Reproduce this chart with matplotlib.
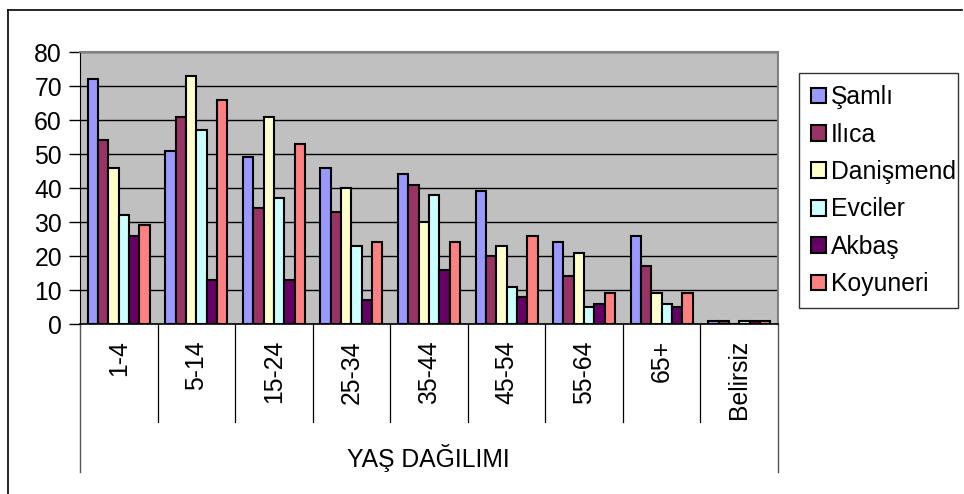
import matplotlib
matplotlib.use("Agg")
import matplotlib.pyplot as plt
import numpy as np
from matplotlib.lines import Line2D
import matplotlib.transforms as mtrans

plt.rcParams['font.family'] = ['Liberation Sans', 'DejaVu Sans']

categories = ["1-4", "5-14", "15-24", "25-34", "35-44", "45-54", "55-64", "65+", "Belirsiz"]
series_names = ["Şamlı", "Ilıca", "Danişmend", "Evciler", "Akbaş", "Koyuneri"]
samli     = [72, 51, 49, 46, 44, 39, 24, 26, 1]
ilica     = [54, 61, 34, 33, 41, 20, 14, 17, 1]
danismend = [46, 73, 61, 40, 30, 23, 21, 9, 0]
evciler   = [32, 57, 37, 23, 38, 11, 5, 6, 1]
akbas     = [26, 13, 13, 7, 16, 8, 6, 5, 1]
koyuneri  = [29, 66, 53, 24, 24, 26, 9, 9, 1]
series = [samli, ilica, danismend, evciler, akbas, koyuneri]
colors = ["#9999FF", "#993366", "#FFFFCC", "#CCFFFF", "#660066", "#FF8080"]
axis_title = "YAŞ DAĞILIMI"

FS = 17.8
W, H = 964, 494
fig = plt.figure(figsize=(W / 100, H / 100), dpi=100)
L, R, T, B = 80, 778, 52, 324
ax = fig.add_axes([L / W, 1 - B / H, (R - L) / W, (B - T) / H])
ax.set_facecolor("#C0C0C0")

n = len(series)
bw = 1.0 / (n + 1.5)
x = np.arange(len(categories))
for i, (vals, c, name) in enumerate(zip(series, colors, series_names)):
    offs = (i - (n - 1) / 2) * bw
    ax.bar(x + offs, vals, width=bw, color=c, edgecolor="black", linewidth=1.5,
           label=name, zorder=3)

ax.set_xlim(-0.5, len(categories) - 0.5)
ax.set_ylim(0, 80)
ax.set_yticks(range(0, 81, 10))
ax.yaxis.grid(True, color="black", linewidth=1.0, zorder=1)
ax.set_axisbelow(True)
ax.tick_params(axis="y", direction="out", length=8, width=1, labelsize=FS, pad=5,
               colors="black")
ax.set_xticks([])
for s in ["top", "right"]:
    ax.spines[s].set_color("#808080")
    ax.spines[s].set_linewidth(1.5)
ax.spines["left"].set_color("black")
ax.spines["bottom"].set_color("black")
ax.spines["bottom"].set_linewidth(1.2)

# Category labels and separators
trans = mtrans.blended_transform_factory(ax.transData, ax.transAxes)
h_px = B - T
def yfrac(py):
    return -(py - B) / h_px
for k, cat in enumerate(categories):
    ax.text(k, yfrac(340), cat, rotation=90, ha="center", va="top", fontsize=FS,
            transform=trans)
for k in range(1, len(categories)):
    ax.add_line(Line2D([k - 0.5, k - 0.5], [0, yfrac(422)], color="black", linewidth=0.9,
                       transform=trans, clip_on=False))
for xe in [-0.5, len(categories) - 0.5]:
    ax.add_line(Line2D([xe, xe], [0, yfrac(472)], color="#555555", linewidth=1.0,
                       transform=trans, clip_on=False))
fig.text(428 / W, 1 - 458 / H, axis_title, ha="center", va="center", fontsize=FS)

# Legend
leg = ax.legend(loc="upper left",
                bbox_to_anchor=(799 / W, 1 - 300 / H, (958 - 799) / W, (300 - 73) / H),
                bbox_transform=fig.transFigure, mode="expand", frameon=True, fancybox=False,
                fontsize=FS, handlelength=0.6, handleheight=0.6, handletextpad=0.2,
                labelspacing=0.54, borderaxespad=0, borderpad=0.5)
leg.get_frame().set_edgecolor("black")
leg.get_frame().set_linewidth(1.0)
for p in leg.get_patches():
    p.set_linewidth(1.5)

# Outer chart border (top and left visible)
fig.add_artist(Line2D([8 / W, 962 / W], [1 - 10 / H, 1 - 10 / H], color="black", linewidth=1.2,
                      transform=fig.transFigure))
fig.add_artist(Line2D([8 / W, 8 / W], [1 - 10 / H, 0], color="black", linewidth=1.2,
                      transform=fig.transFigure))

fig.savefig("out.png", dpi=100)
